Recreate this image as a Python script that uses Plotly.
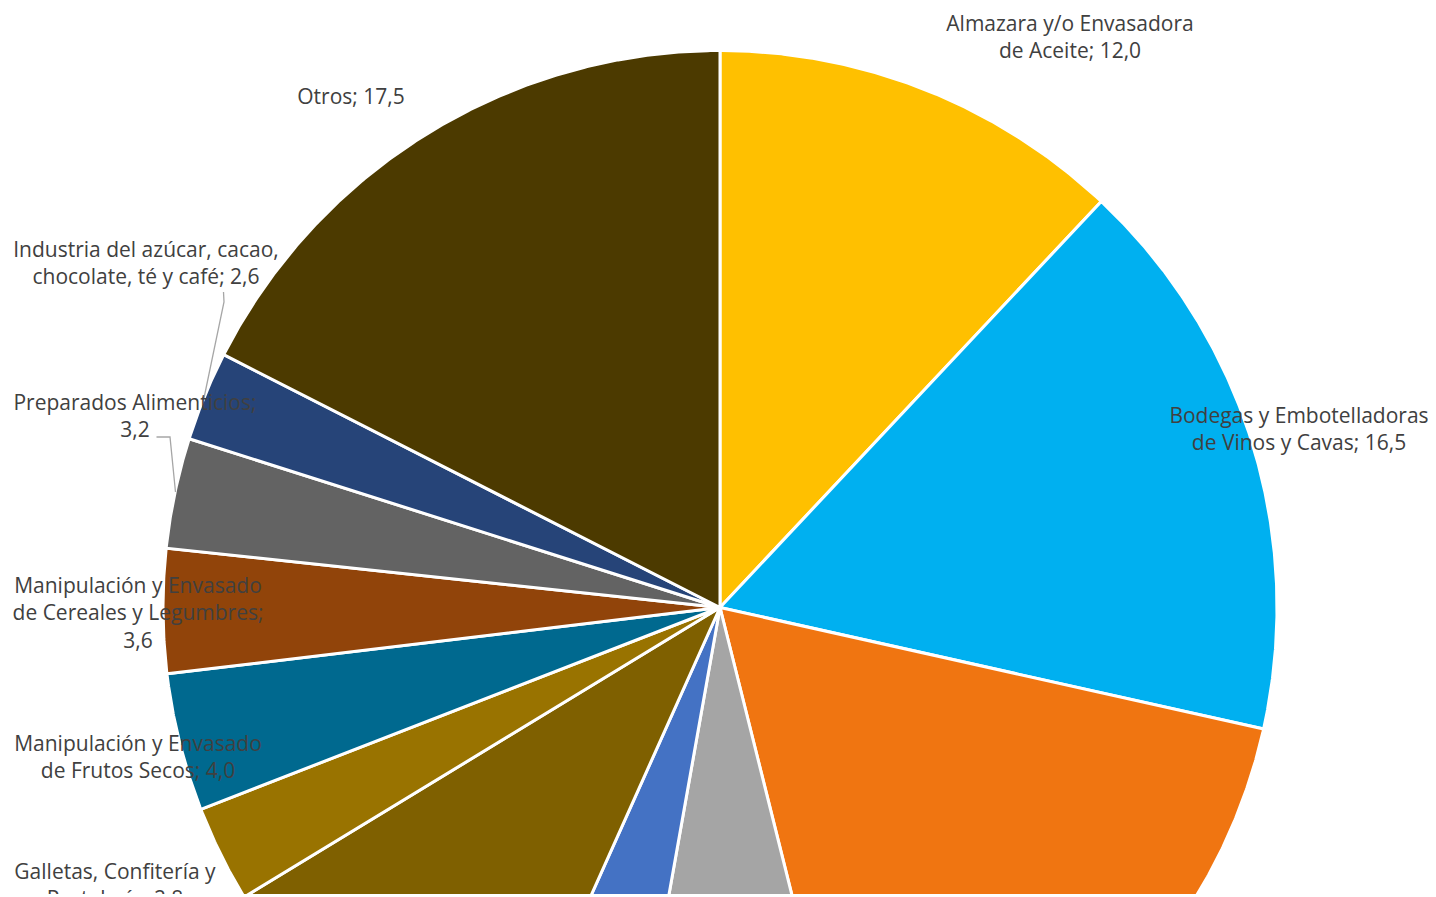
import numpy as np
import plotly.graph_objects as go

# ---- data (percent share) ----
categories = [
    "Almazara y/o Envasadora de Aceite",
    "Bodegas y Embotelladoras de Vinos y Cavas",
    "Industrias Cárnicas",
    "Industrias Lácteas",
    "Aguas y Bebidas",
    "Manipulación y Envasado de Frutas y Hortalizas",
    "Galletas, Confitería y Pastelería",
    "Manipulación y Envasado de Frutos Secos",
    "Manipulación y Envasado de Cereales y Legumbres",
    "Preparados Alimenticios",
    "Industria del azúcar, cacao, chocolate, té y café",
    "Otros",
]
values = [12.0, 16.5, 17.6, 6.7, 3.9, 9.6, 2.8, 4.0, 3.6, 3.2, 2.6, 17.5]

# label wrapping as shown in the chart (None = label lies outside the visible area)
label_names = [
    "Almazara y/o Envasadora<br>de Aceite",
    "Bodegas y Embotelladoras<br>de Vinos y Cavas",
    None,
    None,
    None,
    None,
    "Galletas, Confitería y<br>Pastelería",
    "Manipulación y Envasado<br>de Frutos Secos",
    "Manipulación y Envasado<br>de Cereales y Legumbres",
    "Preparados Alimenticios",
    "Industria del azúcar, cacao,<br>chocolate, té y café",
    "Otros",
]
label_sep = ["; ", "; ", "", "", "", "", "; ", "; ", ";<br>", ";<br>", "; ", "; "]

# ---- styles / layout ----
colors = ["#FFC000", "#00B0F0", "#F07511", "#A5A5A5", "#4472C4", "#7F6000",
          "#997300", "#00698F", "#91440A", "#636363", "#264478", "#4C3A00"]
CX, CY, R = 720.0, 607.5, 557.0       # pie centre / radius in page px units
PAGE_W, PAGE_H = 1436, 897
OFF = 8                                # browser body margin
BOTTOM = 3
W, H = PAGE_W - OFF, PAGE_H - OFF

label_pos = [(1070, 39), (1299, 431), None, None, None, None,
             (115, 887), (138, 759), (138, 615), (135, 418), (146, 265), (351, 99)]
leaders = [
    [(223.5, 292), (224, 302), (204, 398)],          # azúcar
    [(156.5, 437), (170, 437), (175.5, 492)],        # preparados
]

fig = go.Figure()

total = float(sum(values))
cum = 0.0
for name, v, c in zip(categories, values, colors):
    a0 = cum / total * 2 * np.pi
    a1 = (cum + v) / total * 2 * np.pi
    cum += v
    th = np.linspace(a0, a1, max(int(np.degrees(a1 - a0) * 4), 2))
    xs = np.concatenate([[CX], CX + R * np.sin(th), [CX]])
    ys = np.concatenate([[CY], CY - R * np.cos(th), [CY]])
    fig.add_trace(go.Scatter(
        x=xs, y=ys, mode="lines", fill="toself", fillcolor=c,
        line=dict(color="white", width=3), name=name,
        hoverinfo="skip", showlegend=False,
    ))

for pts in leaders:
    fig.add_trace(go.Scatter(
        x=[p[0] for p in pts], y=[p[1] for p in pts], mode="lines",
        line=dict(color="#A6A6A6", width=1.3), hoverinfo="skip", showlegend=False,
    ))

lx, ly, lt = [], [], []
for nm, sep, v, pos in zip(label_names, label_sep, values, label_pos):
    if nm is None or pos is None:
        continue
    lx.append(pos[0])
    ly.append(pos[1])
    lt.append(nm + sep + f"{v:.1f}".replace(".", ","))

fig.add_trace(go.Scatter(
    x=lx, y=ly, text=lt, mode="text", textposition="middle center",
    textfont=dict(family="Open Sans", size=21, color="#404040"),
    hoverinfo="skip", showlegend=False, cliponaxis=True,
))

fig.update_layout(
    width=W, height=H,
    margin=dict(l=0, r=0, t=0, b=BOTTOM),
    paper_bgcolor="white", plot_bgcolor="white",
    xaxis=dict(range=[OFF, PAGE_W], visible=False, fixedrange=True),
    yaxis=dict(range=[PAGE_H - BOTTOM, OFF], visible=False, fixedrange=True),
    showlegend=False,
)

fig.write_html("out.html")
